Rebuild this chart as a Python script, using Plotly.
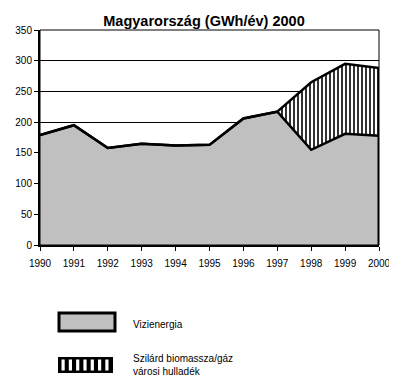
import plotly.graph_objects as go

years = list(range(1990, 2001))
vizienergia = [179, 195, 158, 165, 162, 163, 206, 217, 155, 181, 178]
biomassza = [0, 0, 0, 0, 0, 0, 0, 0, 110, 114, 110]
tick_labels = [str(y) for y in years]
series_names = ["Vizienergia", "Szilárd biomassza/gáz<br>városi hulladék"]
title_text = "Magyarország (GWh/év) 2000"

FONT = "Liberation Sans, Arial, sans-serif"

fig = go.Figure()
fig.add_trace(go.Scatter(
    x=years, y=vizienergia, stackgroup="one", mode="lines",
    line=dict(color="black", width=2.5), fillcolor="#c0c0c0",
    name=series_names[0], showlegend=False))
fig.add_trace(go.Scatter(
    x=years, y=biomassza, stackgroup="one", mode="lines",
    line=dict(color="black", width=2.5),
    fillpattern=dict(shape="|", size=4, solidity=0.4, fgcolor="black", bgcolor="white",
                     fillmode="replace"),
    name=series_names[1], showlegend=False))
# right edge of the stacked area
total_last = vizienergia[-1] + biomassza[-1]
fig.add_trace(go.Scatter(x=[years[-1], years[-1]], y=[0, total_last], mode="lines",
                         line=dict(color="black", width=3), showlegend=False, hoverinfo="skip"))

OFF = 8  # page body margin
W, H = 397 - OFF, 387 - OFF
L, R, T, B = 40 - OFF, 18, 30 - OFF, 142
pw = W - L - R
ph = H - T - B

def px(x):
    return (x - OFF - L) / pw

def py(y):
    return (H - B - (y - OFF)) / ph

shapes = [
    dict(type="rect", xref="paper", yref="paper", x0=0, x1=1, y0=0, y1=1,
         line=dict(color="black", width=1), layer="above"),
    # legend box 1
    dict(type="rect", xref="paper", yref="paper", x0=px(59), x1=px(115), y0=py(313), y1=py(331),
         fillcolor="#c0c0c0", line=dict(color="black", width=3)),
    # legend box 2 (black with white slits)
    dict(type="rect", xref="paper", yref="paper", x0=px(58), x1=px(113), y0=py(357), y1=py(373),
         fillcolor="black", line=dict(color="black", width=0)),
]
for i in range(7):
    x0 = 61.5 + i * 7.3
    shapes.append(dict(type="rect", xref="paper", yref="paper", x0=px(x0), x1=px(x0 + 3.2),
                       y0=py(359.5), y1=py(370.5), fillcolor="white", line=dict(width=0)))

annotations = [
    dict(text="Vizienergia", xref="paper", yref="paper", x=px(131), y=py(324),
         xanchor="left", yanchor="middle", showarrow=False, font=dict(size=10, family=FONT, color="black")),
    dict(text=series_names[1], xref="paper", yref="paper", x=px(131), y=py(365),
         xanchor="left", yanchor="middle", showarrow=False, align="left",
         font=dict(size=10, family=FONT, color="black")),
]

fig.update_layout(
    width=W, height=H,
    margin=dict(l=L, r=R, t=T, b=B, autoexpand=False),
    paper_bgcolor="white", plot_bgcolor="white",
    title=dict(text="<b>" + title_text + "</b>", x=(204 - OFF) / W, xanchor="center",
               y=1 - (21 - OFF) / H, yanchor="middle",
               font=dict(size=14.5, family=FONT, color="black")),
    font=dict(family=FONT, color="black"),
    shapes=shapes, annotations=annotations,
    showlegend=False,
)
fig.update_xaxes(range=[1990, 2000], tickvals=years, ticktext=tick_labels, automargin=False,
                 ticks="outside", ticklen=4, tickcolor="black", tickwidth=1,
                 ticklabelstandoff=4,
                 showline=True, linecolor="black", linewidth=2, showgrid=False, zeroline=False,
                 tickfont=dict(size=10, family=FONT, color="black"))
fig.update_yaxes(range=[0, 350], dtick=50, ticks="outside", ticklen=4, tickcolor="black",
                 automargin=False,
                 showline=True, linecolor="black", linewidth=2,
                 showgrid=True, gridcolor="black", gridwidth=1, zeroline=False,
                 tickfont=dict(size=10, family=FONT, color="black"))

fig.write_html("out.html")
